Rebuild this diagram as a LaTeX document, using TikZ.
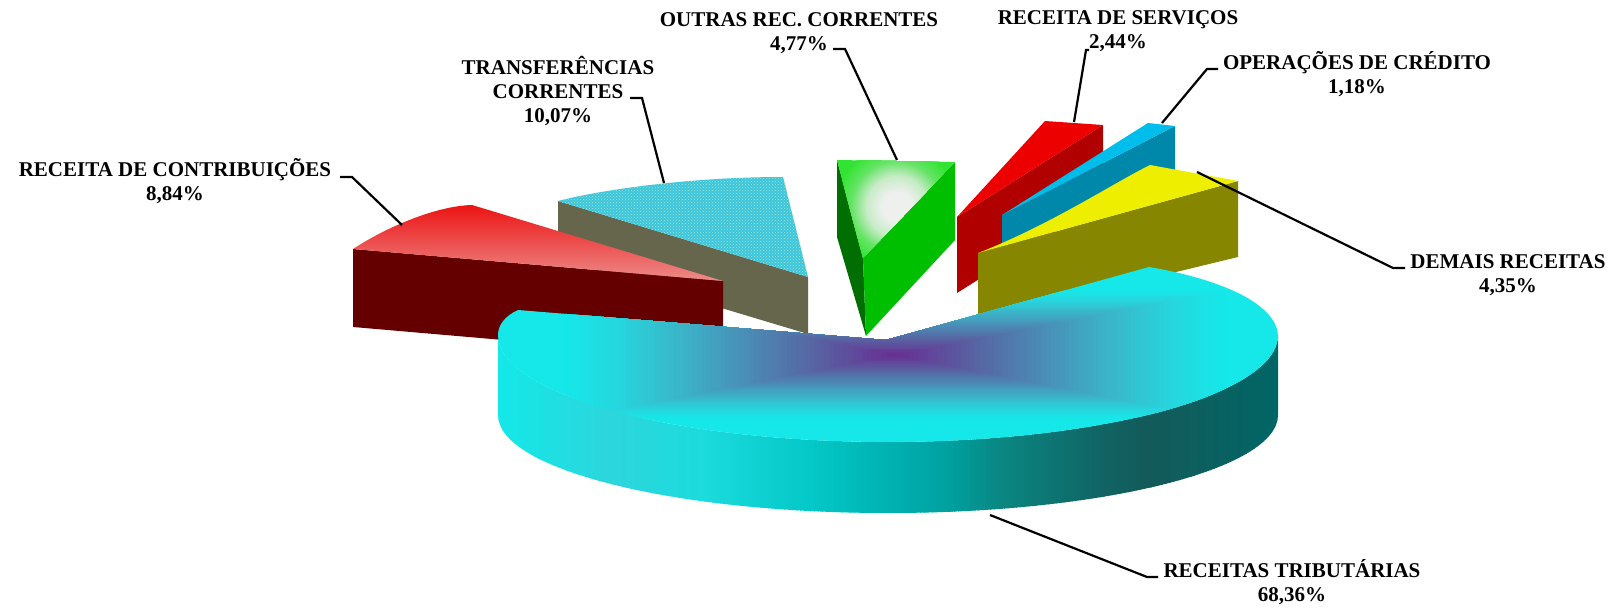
\documentclass[tikz,border=0pt]{standalone}
\usepackage{fontspec}
\setmainfont{Liberation Serif}
\usetikzlibrary{patterns}
\definecolor{teaTop}{RGB}{60,198,222}
\definecolor{teaDot}{RGB}{165,225,200}
\definecolor{oliveSide}{RGB}{102,102,76}
\definecolor{redTopA}{RGB}{236,20,20}
\definecolor{redTopB}{RGB}{236,140,138}
\definecolor{redSide}{RGB}{100,0,0}
\definecolor{gDark}{RGB}{0,110,0}
\definecolor{gRight}{RGB}{0,190,0}
\definecolor{gEdge}{RGB}{50,228,50}
\definecolor{sTop}{RGB}{236,0,0}
\definecolor{sSide}{RGB}{176,0,0}
\definecolor{oTop}{RGB}{0,190,235}
\definecolor{oSide}{RGB}{0,136,170}
\definecolor{yTop}{RGB}{238,238,0}
\definecolor{ySide}{RGB}{134,134,0}
\definecolor{tC}{RGB}{22,232,234}
\newcommand{\lbltext}[1]{\begin{tabular}[t]{@{}c@{}}#1\end{tabular}}
\newcommand{\sideseg}[8]{%
  \pgfmathtruncatemacro{\nst}{(#2-#1)/4}%
  \foreach \j in {0,...,\nst}{%
    \pgfmathsetmacro{\ff}{\j/\nst}%
    \pgfmathtruncatemacro{\cR}{#3+(#6-#3)*\ff}%
    \pgfmathtruncatemacro{\cG}{#4+(#7-#4)*\ff}%
    \pgfmathtruncatemacro{\cB}{#5+(#8-#5)*\ff}%
    \definecolor{tmps}{RGB}{\cR,\cG,\cB}%
    \fill[tmps] ({#1+4*\j},300) rectangle ({#1+4*\j+4.8},530);%
  }}
\begin{document}
\begin{tikzpicture}[x=1pt,y=-1pt,
  lbl/.style={inner sep=0pt, anchor=base, font=\fontsize{21}{24}\selectfont\bfseries},
  leader/.style={line width=2.2pt, black, line join=miter}]
\useasboundingbox (0,0) rectangle (1613,609);
% Transferencias correntes
\fill[oliveSide] (558,201) -- (808,277) -- (808,334) -- (558,259) -- cycle;
\fill[teaTop] (558,201) .. controls (600,190) and (690,177) .. (783,177) -- (808,277) -- cycle;
\fill[pattern=crosshatch dots, pattern color=teaDot] (558,201) .. controls (600,190) and (690,177) .. (783,177) -- (808,277) -- cycle;
% Receita de contribuicoes
\fill[redSide] (353,249) -- (723,281) -- (723,359) -- (353,327) -- cycle;
\shade[top color=redTopA, bottom color=redTopB] (353,249) .. controls (385,228) and (435,206) .. (472,205) -- (723,281) -- cycle;
% Outras rec. correntes
\fill[gDark] (837,160) -- (863,258) -- (866,336) -- (837,237) -- cycle;
\fill[gRight] (955,162) -- (955,240) -- (866,336) -- (863,258) -- cycle;
\begin{scope}
\clip (837,160) -- (955,162) -- (863,258) -- cycle;
\fill[gEdge] (830,150) rectangle (960,262);
\foreach \k in {40,39,...,1}{
  \pgfmathsetmacro{\rr}{\k/40}
  \pgfmathtruncatemacro{\cR}{\rr<0.25 ? 238 : (\rr<0.5 ? 238-152*(\rr-0.25) : (\rr<0.75 ? 200-400*(\rr-0.5) : 100-200*(\rr-0.75)))}
  \pgfmathtruncatemacro{\cG}{\rr<0.25 ? 240 : (\rr<0.5 ? 240-16*(\rr-0.25) : (\rr<0.75 ? 236-32*(\rr-0.5) : 228))}
  \definecolor{tmpg}{RGB}{\cR,\cG,\cR}
  \fill[tmpg] (897,207) circle[radius=62*\rr];
}
\end{scope}
% Receita de servicos
\fill[sSide] (1103,125) -- (957,217) -- (957,293) -- (1103,201) -- cycle;
\fill[sTop] (1045,121) -- (1103,125) -- (957,217) -- cycle;
% Operacoes de credito
\fill[oSide] (1175,126) -- (1002,215) -- (1002,252) -- (1175,172) -- cycle;
\fill[oTop] (1148,123) -- (1175,126) -- (1002,215) -- cycle;
% Demais receitas
\fill[ySide] (978,253) -- (1238,181) -- (1238,257) -- (978,320) -- cycle;
\fill[yTop] (978,253) .. controls (1050,225) and (1110,185) .. (1150,165) -- (1238,181) -- cycle;
% Receitas tributarias: side
\begin{scope}
\clip (498,335) -- (498,415) arc[start angle=180, end angle=0, x radius=390, y radius=98] -- (1278,335) arc[start angle=0, end angle=180, x radius=390, y radius=107] -- cycle;
\sideseg{498}{610}{20}{232}{232}{45}{214}{220}
\sideseg{610}{700}{45}{214}{220}{28}{220}{222}
\sideseg{700}{810}{28}{220}{222}{5}{200}{200}
\sideseg{810}{880}{5}{200}{200}{0}{180}{180}
\sideseg{880}{950}{0}{180}{180}{0}{160}{160}
\sideseg{950}{1000}{0}{160}{160}{10}{135}{130}
\sideseg{1000}{1100}{10}{135}{130}{17}{100}{100}
\sideseg{1100}{1150}{17}{100}{100}{20}{90}{90}
\sideseg{1150}{1190}{20}{90}{90}{15}{95}{95}
\sideseg{1190}{1280}{15}{95}{95}{0}{102}{102}
\end{scope}
% Receitas tributarias: top (centre-out gradient)
\begin{scope}
\clip (886,340) -- (518,310) .. controls (505,316) and (498,325) .. (498,335)
  arc[start angle=180, end angle=0, x radius=390, y radius=107]
  .. controls (1276,305) and (1225,280) .. (1149,267) -- cycle;
\fill[tC] (480,250) rectangle (1290,460);
\foreach \k in {70,69,...,1}{
  \pgfmathsetmacro{\rr}{\k/70}
  \pgfmathtruncatemacro{\cR}{\rr<0.25 ? 105-68*\rr : (\rr<0.45 ? 88-65*(\rr-0.25) : (\rr<0.65 ? 75-75*(\rr-0.45) : (\rr<0.85 ? 60-110*(\rr-0.65) : 38-107*(\rr-0.85))))}
  \pgfmathtruncatemacro{\cG}{\rr<0.25 ? 45+220*\rr : (\rr<0.45 ? 100+200*(\rr-0.25) : (\rr<0.65 ? 140+200*(\rr-0.45) : (\rr<0.85 ? 180+175*(\rr-0.65) : 215+113*(\rr-0.85))))}
  \pgfmathtruncatemacro{\cB}{\rr<0.25 ? 145+72*\rr : (\rr<0.45 ? 163+95*(\rr-0.25) : (\rr<0.65 ? 182+90*(\rr-0.45) : (\rr<0.85 ? 200+110*(\rr-0.65) : 222+80*(\rr-0.85))))}
  \definecolor{tmpt}{RGB}{\cR,\cG,\cB}
  \fill[tmpt] ({895-330*\rr},{355-65*\rr}) rectangle ({895+330*\rr},{355+65*\rr});
}
\end{scope}
% labels
\node[lbl] (lcon) at (175,177) {\lbltext{RECEITA DE CONTRIBUIÇÕES\\8,84\%}};
\node[lbl] (ltra) at (558,75) {\lbltext{TRANSFERÊNCIAS\\CORRENTES\\10,07\%}};
\node[lbl] (lout) at (799,27) {\lbltext{OUTRAS REC. CORRENTES\\4,77\%}};
\node[lbl] (lser) at (1118,25) {\lbltext{RECEITA DE SERVIÇOS\\2,44\%}};
\node[lbl] (lope) at (1357,70) {\lbltext{OPERAÇÕES DE CRÉDITO\\1,18\%}};
\node[lbl] (ldem) at (1508,269) {\lbltext{DEMAIS RECEITAS\\4,35\%}};
\node[lbl] (ltri) at (1292,577) {\lbltext{RECEITAS TRIBUTÁRIAS\\68,36\%}};
% leader coordinates
\coordinate (a1) at (340,177); \coordinate (b1) at (352,177); \coordinate (e1) at (402,225);
\coordinate (a2) at (630,98);  \coordinate (b2) at (642,98);  \coordinate (e2) at (664,183);
\coordinate (a3) at (833,49);  \coordinate (b3) at (845,49);  \coordinate (e3) at (897,160);
\coordinate (a4) at (1089,50); \coordinate (b4) at (1086,50); \coordinate (e4) at (1074,122);
\coordinate (a5) at (1218,69); \coordinate (b5) at (1207,69); \coordinate (e5) at (1162,123);
\coordinate (a6) at (1405,268); \coordinate (b6) at (1393,268); \coordinate (e6) at (1197,172);
\coordinate (a7) at (1158,577); \coordinate (b7) at (1147,577); \coordinate (e7) at (990,515);
\foreach \i in {1,...,7} { \draw[leader] (a\i) -- (b\i) -- (e\i); }
\end{tikzpicture}
\end{document}
